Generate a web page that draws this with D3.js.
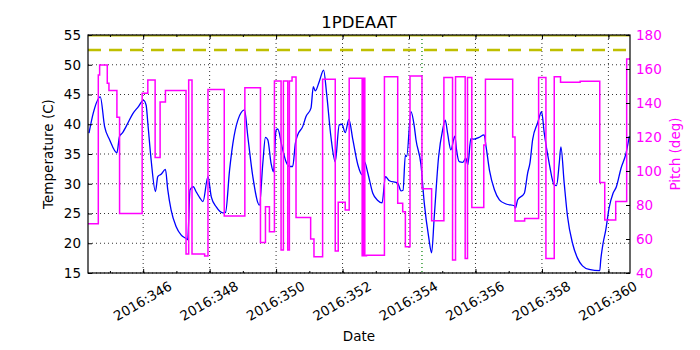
<!DOCTYPE html>
<html lang="en">
<head>
  <meta charset="UTF-8">
  <title>1PDEAAT</title>
  <script src="https://cdn.jsdelivr.net/npm/d3@7.8.5/dist/d3.min.js"></script>
  <style>
    body { margin: 0; background: #fff; font-family: 'DejaVu Sans', sans-serif; }
    svg text { font-family: 'DejaVu Sans', sans-serif; }
  </style>
</head>
<body>
  <svg id="chart" width="700" height="350"></svg>
  <script>
    // temperature (C) vs day of 2016, [day, value]
    const tempSeries = [
      [344.37, 38.5], [344.50, 41.9], [344.71, 44.6], [344.84, 39.6], [344.99, 37.4], [345.21, 35.2],
      [345.29, 38.0], [345.37, 38.5], [345.54, 40.2], [345.69, 41.8], [345.84, 42.85], [346.01, 44.0],
      [346.09, 43.2], [346.14, 40.2], [346.24, 34.0], [346.37, 28.7], [346.44, 31.2], [346.54, 31.6],
      [346.67, 32.4], [346.74, 29.0], [346.84, 25.6], [346.99, 22.8], [347.14, 21.4], [347.29, 20.8],
      [347.34, 20.6], [347.41, 29.0], [347.51, 29.5], [347.59, 28.7], [347.71, 27.6], [347.80, 27.0],
      [347.95, 31.2], [348.05, 27.8], [348.20, 26.1], [348.40, 25.1], [348.48, 25.2], [348.60, 32.3],
      [348.70, 36.8], [348.85, 40.7], [349.05, 42.4], [349.15, 37.9], [349.30, 31.2], [349.50, 26.4],
      [349.60, 33.4], [349.68, 37.8], [349.75, 37.4], [349.85, 33.4], [349.92, 32.0], [350.00, 39.0],
      [350.05, 39.2], [350.18, 36.2], [350.30, 33.7], [350.40, 32.9], [350.50, 32.9], [350.58, 36.8],
      [350.65, 38.2], [350.80, 39.6], [350.90, 41.3], [351.05, 42.7], [351.12, 46.3], [351.18, 45.6],
      [351.30, 47.2], [351.43, 49.1], [351.52, 45.2], [351.65, 37.9], [351.78, 33.7], [351.90, 39.9],
      [351.98, 40.0], [352.08, 38.6], [352.19, 40.8], [352.31, 37.4], [352.46, 33.2], [352.59, 31.5],
      [352.66, 33.7], [352.76, 31.8], [352.91, 28.4], [353.06, 27.2], [353.19, 26.8], [353.29, 31.2],
      [353.41, 30.5], [353.66, 30.1], [353.76, 28.8], [353.82, 28.9], [353.89, 34.8], [353.93, 34.6],
      [354.06, 42.1], [354.16, 39.6], [354.21, 37.4], [354.36, 33.2], [354.46, 26.7], [354.59, 21.1],
      [354.68, 18.4], [354.76, 24.5], [354.89, 34.5], [355.01, 39.0], [355.09, 40.7], [355.16, 38.5],
      [355.26, 35.7], [355.38, 38.0], [355.43, 35.7], [355.51, 33.7], [355.62, 33.6], [355.71, 34.3],
      [355.77, 33.2], [355.86, 37.6], [355.96, 37.5], [356.11, 37.8], [356.26, 38.2], [356.32, 36.2],
      [356.42, 32.3], [356.57, 29.0], [356.72, 27.3], [356.92, 26.6], [357.17, 26.3], [357.20, 25.9],
      [357.27, 27.3], [357.47, 28.4], [357.57, 31.8], [357.64, 33.5], [357.72, 37.4], [357.87, 40.2],
      [357.99, 42.1], [358.07, 38.5], [358.22, 33.4], [358.37, 29.8], [358.44, 29.7], [358.52, 33.4],
      [358.57, 36.2], [358.67, 30.1], [358.77, 24.5], [358.92, 20.0], [359.07, 17.5], [359.22, 16.2],
      [359.42, 15.6], [359.74, 15.4], [359.77, 17.2], [359.84, 20.0], [359.92, 22.2], [360.02, 25.9],
      [360.14, 28.4], [360.24, 29.5], [360.38, 32.6], [360.53, 35.1], [360.63, 38.0]
    ];

    // pitch (deg), value holds until next change
    const pitchDays = [344.34, 344.65, 344.69, 344.92, 344.97, 345.21, 345.29, 345.97, 346.14, 346.36,
      346.51, 346.67, 347.29, 347.37, 347.47, 347.85, 347.95, 348.44, 349.06, 349.53, 349.68, 349.80,
      349.95, 350.15, 350.22, 350.35, 350.40, 350.48, 350.60, 351.04, 351.14, 351.40, 351.78, 351.87,
      352.08, 352.20, 352.59, 352.63, 352.67, 352.72, 353.26, 353.66, 353.81, 353.89, 354.03, 354.39,
      354.68, 355.05, 355.31, 355.40, 355.69, 355.76, 355.89, 356.25, 356.30, 357.12, 357.19, 357.48,
      357.90, 358.12, 358.37, 358.56, 359.15, 359.74, 359.89, 360.22, 360.55, 360.65];
    const pitchVals = [69, 156.5, 162.4, 151.6, 147.3, 131.6, 75, 145.7, 153.5, 108,
      140.6, 147.3, 51.2, 153.5, 51.2, 50, 148, 73.5, 149, 58, 79, 64.3,
      153, 53.5, 153, 53.5, 153, 155.3, 72.6, 60, 49.6, 154, 53, 81.6,
      77, 154.5, 50.2, 154.5, 50.2, 50.5, 155.5, 81, 76, 55.5, 155.9, 89.6,
      70.8, 155, 47.6, 155.5, 48.6, 155, 78.6, 115.3, 154, 120, 70.6, 72,
      155, 48.6, 155.5, 152.2, 152.8, 93.3, 71.2, 82, 165.9, 165.9];

    const dayTicks = [346, 348, 350, 352, 354, 356, 358, 360];
    const dayMinor = d3.range(345, 361);
    const tempTicks = [15, 20, 25, 30, 35, 40, 45, 50, 55];
    const pitchTicks = [40, 60, 80, 100, 120, 140, 160, 180];
    const limitTemp = 52.5;
    const markerDay = 354.39;

    const margin = { top: 35, right: 70, bottom: 77, left: 88 };
    const width = 700, height = 350;
    const w = width - margin.left - margin.right;
    const h = height - margin.top - margin.bottom;
    const svg = d3.select("#chart");
    const g = svg.append("g").attr("transform", `translate(${margin.left},${margin.top})`);

    const x = d3.scaleLinear().domain([344.34, 360.65]).range([0, w]);
    const yT = d3.scaleLinear().domain([15, 55]).range([h, 0]);
    const yP = d3.scaleLinear().domain([40, 180]).range([h, 0]);

    svg.append("defs").append("clipPath").attr("id", "clip")
      .append("rect").attr("width", w).attr("height", h);

    // grid
    const grid = g.append("g").attr("stroke", "#000").attr("stroke-width", 0.8).attr("stroke-dasharray", "1,3");
    grid.selectAll(".gx").data(dayTicks).enter().append("line")
      .attr("x1", d => x(d)).attr("x2", d => x(d)).attr("y1", 0).attr("y2", h);
    grid.selectAll(".gy").data(tempTicks).enter().append("line")
      .attr("y1", d => yT(d)).attr("y2", d => yT(d)).attr("x1", 0).attr("x2", w);

    const plot = g.append("g").attr("clip-path", "url(#clip)");

    // top limit line and dashed limit
    plot.append("line").attr("x1", 0).attr("x2", w).attr("y1", yT(55)).attr("y2", yT(55))
      .attr("stroke", "#bfbf00").attr("stroke-width", 3);
    plot.append("line").attr("x1", 0).attr("x2", w).attr("y1", yT(limitTemp)).attr("y2", yT(limitTemp))
      .attr("stroke", "#bfbf00").attr("stroke-width", 2.5).attr("stroke-dasharray", "13,8");

    // green marker
    plot.append("line").attr("x1", x(markerDay)).attr("x2", x(markerDay)).attr("y1", 0).attr("y2", h)
      .attr("stroke", "#008000").attr("stroke-width", 1.2).attr("stroke-dasharray", "1,3");

    // temperature
    plot.append("path").datum(tempSeries)
      .attr("fill", "none").attr("stroke", "#0000ff").attr("stroke-width", 1.3)
      .attr("d", d3.line().curve(d3.curveMonotoneX).x(d => x(d[0])).y(d => yT(d[1])));

    // pitch
    const pitchPts = pitchDays.map((d, i) => [d, pitchVals[i]]);
    plot.append("path").datum(pitchPts)
      .attr("fill", "none").attr("stroke", "#ff00ff").attr("stroke-width", 1.5)
      .attr("d", d3.line().curve(d3.curveStepAfter).x(d => x(d[0])).y(d => yP(d[1])));

    // axes
    const fs = "13.5px";
    const bottom = g.append("g").attr("transform", `translate(0,${h})`)
      .call(d3.axisBottom(x).tickValues(dayTicks).tickSize(-4).tickFormat(d => "2016:" + d));
    bottom.selectAll("text")
      .attr("y", 0).attr("dy", "0.35em")
      .attr("text-anchor", "middle")
      .attr("transform", "translate(-1,28) rotate(-30)")
      .style("font-size", fs).attr("fill", "#000");
    g.append("g").attr("transform", `translate(0,${h})`)
      .call(d3.axisBottom(x).tickValues(dayMinor).tickSize(-2).tickFormat(""));
    g.append("g").call(d3.axisTop(x).tickValues(dayTicks).tickSize(-4).tickFormat(""));
    g.append("g").call(d3.axisTop(x).tickValues(dayMinor).tickSize(-2).tickFormat(""));

    const left = g.append("g")
      .call(d3.axisLeft(yT).tickValues(tempTicks).tickSize(-4).tickPadding(7));
    left.selectAll("text").style("font-size", fs).attr("fill", "#000");

    const right = g.append("g").attr("transform", `translate(${w},0)`)
      .call(d3.axisRight(yP).tickValues(pitchTicks).tickSize(-4).tickPadding(6));
    right.selectAll("text").style("font-size", fs).attr("fill", "#ff00ff");

    g.selectAll(".domain").remove();
    g.append("rect").attr("width", w).attr("height", h)
      .attr("fill", "none").attr("stroke", "#000").attr("stroke-width", 1.2);

    // labels
    svg.append("text").attr("x", margin.left + w / 2).attr("y", 28)
      .attr("text-anchor", "middle").style("font-size", "16.5px").text("1PDEAAT");
    svg.append("text").attr("x", margin.left + w / 2).attr("y", 341)
      .attr("text-anchor", "middle").style("font-size", fs).text("Date");
    svg.append("text").attr("transform", `translate(53,${margin.top + h / 2}) rotate(-90)`)
      .attr("text-anchor", "middle").style("font-size", fs).text("Temperature (C)");
    svg.append("text").attr("transform", `translate(680,${margin.top + h / 2}) rotate(-90)`)
      .attr("text-anchor", "middle").style("font-size", fs).attr("fill", "#ff00ff").text("Pitch (deg)");
  </script>
</body>
</html>
